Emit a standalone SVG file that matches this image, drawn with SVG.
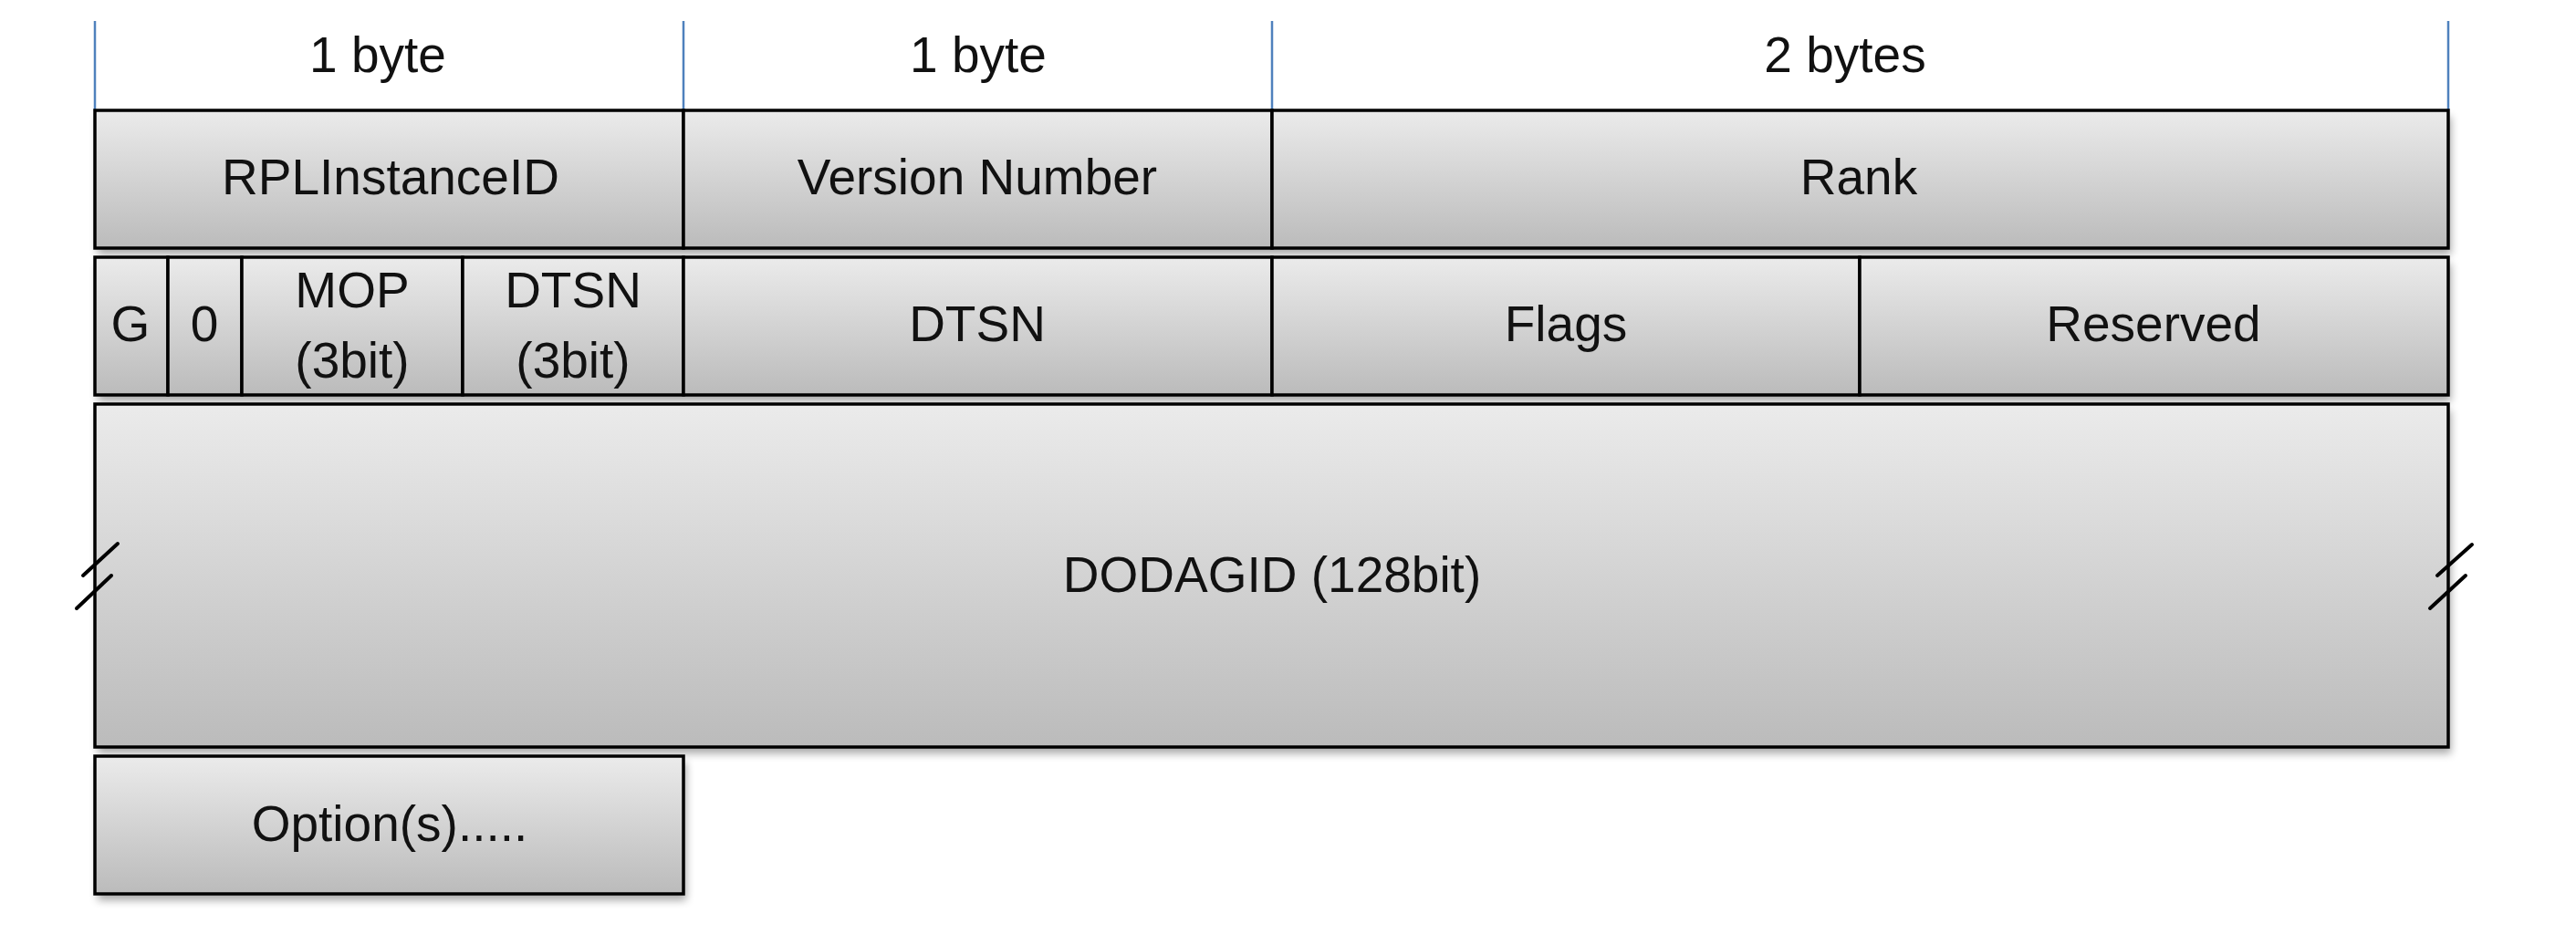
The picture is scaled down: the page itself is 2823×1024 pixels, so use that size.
<svg xmlns="http://www.w3.org/2000/svg" width="2823" height="1024" viewBox="0 0 2823 1024">
  <defs>
    <linearGradient id="cellGrad" x1="0" y1="0" x2="0" y2="1">
      <stop offset="0" stop-color="#ebebeb"/>
      <stop offset="1" stop-color="#bbbbbb"/>
    </linearGradient>
    <filter id="shadow" x="-5%" y="-20%" width="110%" height="150%">
      <feGaussianBlur in="SourceAlpha" stdDeviation="5"/>
      <feOffset dx="3" dy="7" result="b"/>
      <feComponentTransfer><feFuncA type="linear" slope="0.35"/></feComponentTransfer>
    </filter>
  </defs>
  <style>
    .cell { fill: url(#cellGrad); stroke: #000; stroke-width: 3.5; }
    .shd { fill: #000; filter: url(#shadow); }
    .lbl { font-family: "Liberation Sans", Arial, sans-serif; font-size: 55px; fill: #111; text-anchor: middle; }
    .tick { stroke: #4f81bd; stroke-width: 2.5; fill: none; }
    .brk { stroke: #000; stroke-width: 4; stroke-linecap: round; fill: none; }
  </style>
  <rect width="2823" height="1024" fill="#fff"/>

  <!-- shadows -->
  <g id="shadows">
    <rect class="shd" x="104" y="121" width="2579" height="151"/>
    <rect class="shd" x="104" y="282" width="2579" height="151"/>
    <rect class="shd" x="104" y="443" width="2579" height="376"/>
    <rect class="shd" x="104" y="829" width="645" height="151"/>
  </g>

  <!-- byte-width ticks and labels -->
  <g id="connectors">
    <line class="tick" x1="104" y1="23" x2="104" y2="121"/>
    <line class="tick" x1="749" y1="23" x2="749" y2="121"/>
    <line class="tick" x1="1394" y1="23" x2="1394" y2="121"/>
    <line class="tick" x1="2683" y1="23" x2="2683" y2="121"/>
  </g>
  <g id="size-labels">
    <text class="lbl" x="414" y="79">1 byte</text>
    <text class="lbl" x="1072" y="79">1 byte</text>
    <text class="lbl" x="2022" y="79">2 bytes</text>
  </g>

  <!-- Row 1 -->
  <g id="rplinstanceid">
    <rect class="cell" x="104" y="121" width="645" height="151"/>
    <text class="lbl" x="428" y="213">RPLInstanceID</text>
  </g>
  <g id="version-number">
    <rect class="cell" x="749" y="121" width="645" height="151"/>
    <text class="lbl" x="1071" y="213">Version Number</text>
  </g>
  <g id="rank">
    <rect class="cell" x="1394" y="121" width="1289" height="151"/>
    <text class="lbl" x="2037" y="213">Rank</text>
  </g>

  <!-- Row 2 -->
  <g id="g-bit">
    <rect class="cell" x="104" y="282" width="80" height="151"/>
    <text class="lbl" x="143" y="374">G</text>
  </g>
  <g id="zero-bit">
    <rect class="cell" x="184" y="282" width="81" height="151"/>
    <text class="lbl" x="224" y="374">0</text>
  </g>
  <g id="mop">
    <rect class="cell" x="265" y="282" width="242" height="151"/>
    <text class="lbl" x="386" y="337">MOP</text>
    <text class="lbl" x="386" y="414">(3bit)</text>
  </g>
  <g id="dtsn-3bit">
    <rect class="cell" x="507" y="282" width="242" height="151"/>
    <text class="lbl" x="628" y="337">DTSN</text>
    <text class="lbl" x="628" y="414">(3bit)</text>
  </g>
  <g id="dtsn">
    <rect class="cell" x="749" y="282" width="645" height="151"/>
    <text class="lbl" x="1071" y="374">DTSN</text>
  </g>
  <g id="flags">
    <rect class="cell" x="1394" y="282" width="644" height="151"/>
    <text class="lbl" x="1716" y="374">Flags</text>
  </g>
  <g id="reserved">
    <rect class="cell" x="2038" y="282" width="645" height="151"/>
    <text class="lbl" x="2360" y="374">Reserved</text>
  </g>

  <!-- Row 3 -->
  <g id="dodagid">
    <rect class="cell" x="104" y="443" width="2579" height="376"/>
    <text class="lbl" x="1394" y="649">DODAGID (128bit)</text>
  </g>

  <!-- break marks -->
  <g id="break-marks">
    <line class="brk" x1="91" y1="631" x2="129" y2="596"/>
    <line class="brk" x1="84" y1="667" x2="122" y2="631"/>
    <line class="brk" x1="2671" y1="631" x2="2709" y2="597"/>
    <line class="brk" x1="2663" y1="667" x2="2702" y2="631"/>
  </g>

  <!-- Row 4 -->
  <g id="options">
    <rect class="cell" x="104" y="829" width="645" height="151"/>
    <text class="lbl" x="427" y="922">Option(s).....</text>
  </g>
</svg>
